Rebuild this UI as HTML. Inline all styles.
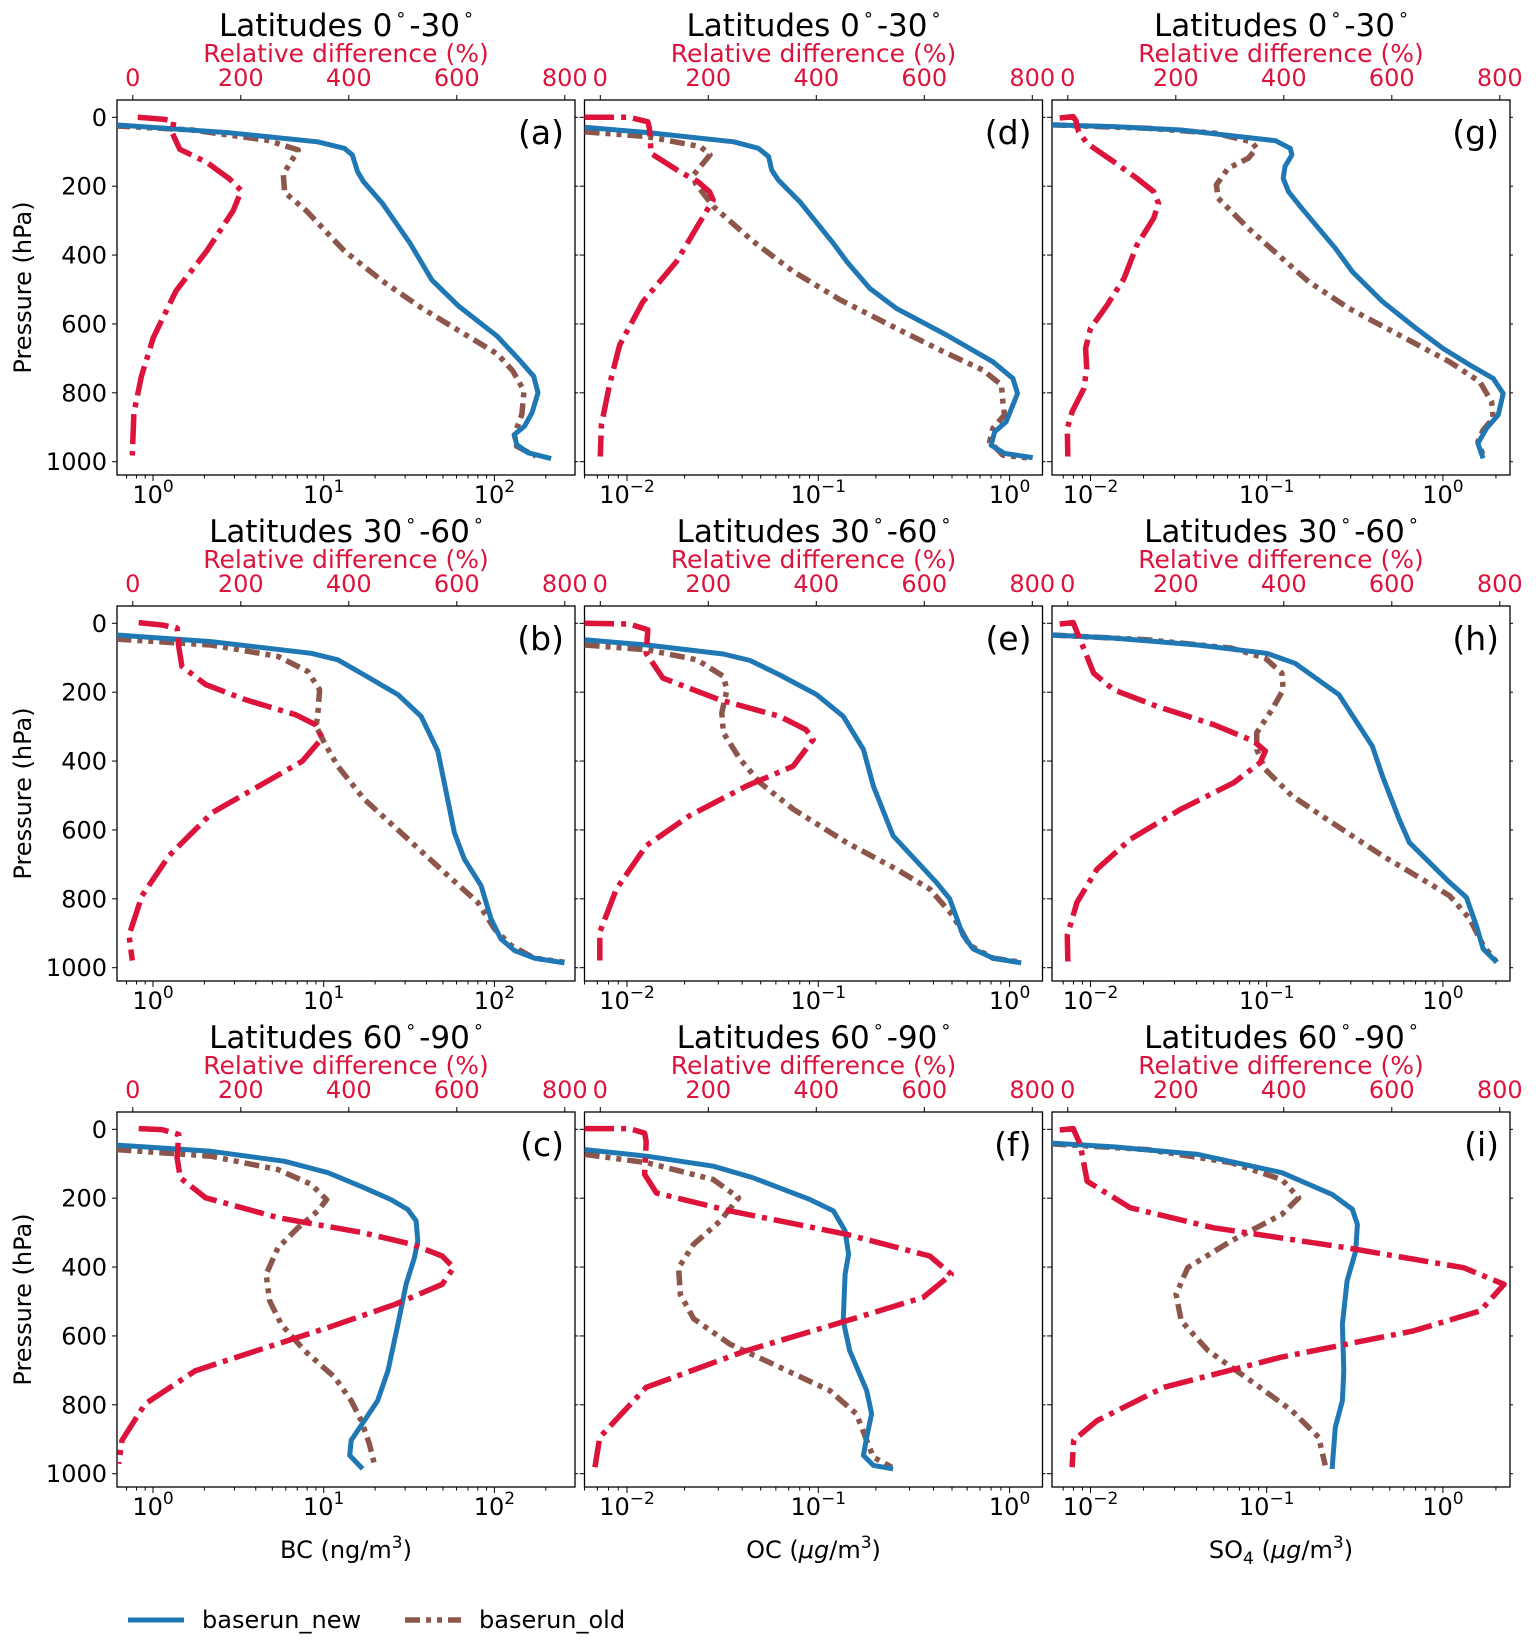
<!DOCTYPE html>
<html><head><meta charset="utf-8"><title>Vertical aerosol profiles</title>
<style>
html,body{margin:0;padding:0;background:#fff;}
svg{display:block;font-family:"DejaVu Sans","Liberation Sans",sans-serif;}
</style></head>
<body>
<svg id="fig" width="1536" height="1643" viewBox="0 0 1536 1643" xmlns="http://www.w3.org/2000/svg">
<defs id="defs"></defs>
<g id="root"></g>
<g>
  <line x1="128" y1="1620" x2="184" y2="1620" stroke="#1f77b4" stroke-width="5"/>
  <text x="202" y="1628" font-size="24">baserun_new</text>
  <line x1="405" y1="1620" x2="461" y2="1620" stroke="#8c564b" stroke-width="5.5" stroke-dasharray="15 6 5 6 5 6"/>
  <text x="479" y="1628" font-size="24">baserun_old</text>
</g>
</svg>
<script>
// ---------- data (pressure hPa, value) ----------
const a_newP=[22,45,71,90,109,158,187,249,365,472,549,636,708,752,800,858,897,921,950,974,991];
const a_newV=[0.61,2.8,9.2,13.2,14.7,15.8,17.1,22,32,43,62,104,142,170,180,166,150,131,135,157,215];
const a_oldP=[25,37,67,95,165,218,271,388,475,552,620,687,736,794,862,921,955,984];
const a_oldV=[0.6,1.7,4.7,7.1,5.8,5.9,7.9,13.2,22,37,62,104,128,149,145,131,135,175];
const a_relP=[0,6,12,45,93,131,179,213,271,388,504,640,752,858,982];
const a_relV=[9,59,76,73,87,137,179,201,186,137,80,38,16,2,-1];
const b_newP=[34,53,87,106,150,207,270,371,463,608,685,762,858,916,950,972,986];
const b_newV=[0.61,2.19,8.45,12.1,17.3,27.2,37.2,46.6,50.9,58.3,66.7,83.6,95.5,109,131,171,257];
const b_oldP=[46,63,96,140,193,260,299,347,415,511,617,723,810,887,935,972,984];
const b_oldV=[0.61,2.19,5.4,8.07,9.46,9.25,9.04,10.1,12.1,17.3,29.7,50.9,79.8,100,125,171,257];
const b_relP=[-2,5,14,67,125,178,222,265,294,333,400,473,550,675,791,906,979];
const b_relV=[11,54,82,85,91,135,209,301,338,351,314,233,147,67,17,-7,-1];
const c_newP=[46,64,93,126,170,204,233,266,324,373,450,566,701,788,846,903,947,986];
const c_newV=[0.61,2.19,5.9,10.6,17.3,24.8,31.1,34.8,35.6,34.0,30.4,27.2,23.8,20.7,17.3,14.5,14.2,16.9];
const c_oldP=[59,78,117,160,204,237,286,344,421,498,566,643,720,788,846,913,976];
const c_oldV=[0.61,2.19,5.4,8.45,10.4,9.25,7.06,5.4,4.6,4.82,5.64,7.73,11.6,14.5,16.6,18.5,19.9];
const c_relP=[-2,1,15,83,141,199,257,300,334,368,402,450,508,575,653,701,797,903,971];
const c_relV=[11,54,85,82,88,135,270,425,517,573,594,573,486,363,209,116,23,-20,-26];
const d_newP=[29,44,71,90,114,153,182,245,366,419,497,555,632,710,758,802,884,913,952,976,988];
const d_newV=[0.006,0.0127,0.0361,0.0486,0.055,0.0571,0.0618,0.080,0.12,0.141,0.186,0.256,0.468,0.818,1.04,1.10,0.96,0.836,0.80,0.94,1.32];
const d_oldP=[42,56,85,109,167,192,259,361,448,530,613,685,734,777,826,864,903,942,981,990];
const d_oldV=[0.006,0.0127,0.0242,0.0272,0.0223,0.0228,0.0283,0.0458,0.0741,0.13,0.256,0.468,0.726,0.906,0.923,0.94,0.818,0.787,0.923,1.30];
const d_relP=[0,0,13,32,105,158,187,216,240,274,419,535,661,777,893,985];
const d_relV=[-30,54,88,91,94,147,181,202,209,196,141,79,36,17,2,0];
const e_newP=[48,63,89,108,150,207,270,366,473,617,752,800,906,945,972,986];
const e_newV=[0.006,0.0127,0.0319,0.044,0.063,0.098,0.135,0.172,0.194,0.246,0.414,0.486,0.571,0.644,0.818,1.15];
const e_oldP=[63,77,106,154,193,260,318,395,463,540,637,714,772,849,935,972,984];
const e_oldV=[0.006,0.0127,0.0232,0.0319,0.0333,0.0313,0.0319,0.039,0.0497,0.0741,0.141,0.256,0.383,0.506,0.618,0.818,1.15];
const e_relP=[0,2,19,87,159,222,270,309,338,415,473,559,646,771,897,979];
const e_relV=[-30,54,88,85,116,221,332,381,394,357,270,165,85,30,-1,-1];
const f_newP=[59,78,107,141,204,237,295,363,421,556,643,759,826,894,947,976,986];
const f_newV=[0.006,0.0127,0.0283,0.0458,0.0906,0.12,0.138,0.144,0.138,0.135,0.146,0.179,0.19,0.179,0.172,0.194,0.246];
const f_oldP=[73,97,146,199,266,334,402,479,550,624,691,759,826,903,952,981];
const f_oldV=[0.006,0.0127,0.0283,0.0383,0.0307,0.0223,0.0186,0.019,0.0223,0.0346,0.063,0.115,0.158,0.179,0.194,0.242];
const f_relP=[-2,-2,11,35,131,185,237,305,368,421,488,556,643,749,894,981];
const f_relV=[-30,54,82,85,82,104,240,456,610,650,598,456,270,85,-1,-10];
const g_newP=[22,27,37,59,68,90,109,143,177,216,264,380,448,535,613,671,719,758,802,864,903,947,990];
const g_newV=[0.006,0.0136,0.0327,0.0785,0.112,0.136,0.139,0.127,0.124,0.133,0.158,0.245,0.306,0.454,0.705,1.0,1.42,1.93,2.2,2.06,1.77,1.58,1.69];
const g_oldP=[22,32,46,71,90,119,148,196,235,322,409,477,555,632,710,768,826,874,908,942,981];
const g_oldV=[0.006,0.0211,0.0507,0.082,0.0877,0.0785,0.0604,0.0518,0.053,0.0785,0.122,0.173,0.293,0.565,1.09,1.62,1.89,1.93,1.69,1.58,1.69];
const g_relP=[2,-2,10,42,76,129,177,216,250,293,371,468,545,613,671,729,787,855,903,985];
const g_relV=[-15,10,15,20,36,85,128,159,168,159,128,104,73,42,33,35,30,8,-1,0];
const h_newP=[34,43,63,87,116,207,357,444,569,637,752,796,878,945,984];
const h_newV=[0.006,0.0136,0.0407,0.1,0.145,0.257,0.398,0.454,0.565,0.646,1.09,1.36,1.55,1.69,2.02];
const h_oldP=[34,48,72,101,145,193,251,318,366,424,501,579,675,733,791,858,935,984];
const h_oldV=[0.006,0.0211,0.063,0.098,0.122,0.124,0.107,0.0877,0.0877,0.098,0.139,0.235,0.454,0.705,1.09,1.42,1.69,2.02];
const h_relP=[2,-2,14,48,145,193,241,294,342,371,405,463,540,627,714,810,906,982];
const h_relV=[-15,10,14,23,48,85,165,270,344,366,356,307,209,116,54,17,-1,0];
const i_newP=[40,51,73,126,189,232,276,353,440,566,701,788,865,986];
const i_newV=[0.006,0.0136,0.0407,0.122,0.235,0.306,0.327,0.32,0.286,0.269,0.274,0.269,0.245,0.235];
const i_oldP=[42,59,97,146,199,247,324,402,479,556,643,739,817,894,976];
const i_oldV=[0.006,0.0211,0.063,0.122,0.152,0.122,0.063,0.0356,0.0306,0.0327,0.0465,0.0857,0.139,0.197,0.215];
const i_relP=[2,-2,44,151,228,286,344,402,450,527,585,662,749,846,903,981];
const i_relV=[-15,10,23,36,116,270,517,733,808,764,641,394,178,54,11,8];

const pressureTicks=[0,200,400,600,800,1000];
const relTicks=[0,200,400,600,800];
const titles=["Latitudes 0","Latitudes 30","Latitudes 60"];
const titleEnds=["-30","-60","-90"];
const colDecades=[[0,1,2],[-2,-1,0],[-2,-1,0]];

const NS="http://www.w3.org/2000/svg";
const root=document.getElementById('root');
const defs=document.getElementById('defs');
const colLeft=[117,584.5,1052], W=458;
const rowTop=[100,606,1112], H=375;
const colAxis=[{px0:153,d0:0,dpx:170.7},{px0:627,d0:-2,dpx:191.3},{px0:1090.5,d0:-2,dpx:176.2}];
const panels=[
 ['a',0,0,a_newP,a_newV,a_oldP,a_oldV,a_relP,a_relV],
 ['b',1,0,b_newP,b_newV,b_oldP,b_oldV,b_relP,b_relV],
 ['c',2,0,c_newP,c_newV,c_oldP,c_oldV,c_relP,c_relV],
 ['d',0,1,d_newP,d_newV,d_oldP,d_oldV,d_relP,d_relV],
 ['e',1,1,e_newP,e_newV,e_oldP,e_oldV,e_relP,e_relV],
 ['f',2,1,f_newP,f_newV,f_oldP,f_oldV,f_relP,f_relV],
 ['g',0,2,g_newP,g_newV,g_oldP,g_oldV,g_relP,g_relV],
 ['h',1,2,h_newP,h_newV,h_oldP,h_oldV,h_relP,h_relV],
 ['i',2,2,i_newP,i_newV,i_oldP,i_oldV,i_relP,i_relV]
];
function mk(tag,attrs,parent,txt){const e=document.createElementNS(NS,tag);for(const k in attrs)e.setAttribute(k,attrs[k]);if(txt!==undefined)e.textContent=txt;(parent||root).appendChild(e);return e;}

panels.forEach(pn=>{
  const [id,row,col,nP,nV,oP,oV,rP,rV]=pn;
  const L=colLeft[col], T=rowTop[row], ax=colAxis[col];
  const yP=p=>T+17.3+p*0.3444;
  const xV=v=>ax.px0+(Math.log10(v)-ax.d0)*ax.dpx;
  const xR=r=>L+15.8+r*0.54;
  const g=mk('g',{});
  
  
  const cp=mk('clipPath',{id:'clip-'+id},defs);
  mk('rect',{x:L,y:T,width:W,height:H},cp);
  const t=mk('text',{x:L+W/2,y:T-64,'font-size':31,'text-anchor':'middle'},g);
  
  
  t.appendChild(document.createTextNode(titles[row]));
  mk('tspan',{'font-size':18,dy:-11,dx:4},t,'°');
  mk('tspan',{dy:11,dx:4},t,titleEnds[row]);
  mk('tspan',{'font-size':18,dy:-11,dx:4},t,'°');
  const rl=mk('text',{x:L+W/2,y:T-38,'font-size':25,'text-anchor':'middle',fill:'#dc143c'},g,'Relative difference (%)');
  
  
  relTicks.forEach(r=>{
    const x=xR(r);
    mk('line',{x1:x,y1:T,x2:x,y2:T-5,stroke:'#000','stroke-width':1},g);
    const tl=mk('text',{x:x,y:T-14,'font-size':24,'text-anchor':'middle',fill:'#dc143c'},g,String(r));
    
    
  });
  pressureTicks.forEach(p=>{
    const y=yP(p);
    mk('line',{x1:L,y1:y,x2:L-5,y2:y,stroke:'#000','stroke-width':1},g);
    mk('line',{x1:L+W,y1:y,x2:L+W+3,y2:y,stroke:'#000','stroke-width':1},g);
    if(col===0){
      const yl=mk('text',{x:L-10,y:y+8.5,'font-size':24,'text-anchor':'end'},g,String(p));
      
      
    }
  });
  for(let d=ax.d0-1; d<=ax.d0+3; d++){
    for(let m=1;m<=9;m++){
      const x=xV(m*Math.pow(10,d));
      if(x<L-0.5||x>L+W+0.5) continue;
      mk('line',{x1:x,y1:T+H,x2:x,y2:T+H+(m===1?6:3.5),stroke:'#000','stroke-width':1},g);
    }
  }
  colDecades[col].forEach(d=>{
    const x=xV(Math.pow(10,d));
    const tl=mk('text',{x:x,y:T+H+28,'font-size':24,'text-anchor':'middle'},g);
    
    
    tl.appendChild(document.createTextNode('10'));
    mk('tspan',{'font-size':17,dy:-11},tl,d<0?'\u2212'+(-d):String(d));
  });
  const fr=mk('rect',{x:L,y:T,width:W,height:H,fill:'none',stroke:'#000','stroke-width':1.3},g);
  
  
  const lines=mk('g',{'clip-path':'url(#clip-'+id+')',fill:'none'},g);
  const oldPts=oP.map((p,k)=>xV(oV[k]).toFixed(1)+','+yP(p).toFixed(1)).join(' ');
  const o=mk('polyline',{points:oldPts,stroke:'#8c564b','stroke-width':5.5,'stroke-dasharray':'15 6 5 6 5 6','stroke-linejoin':'round'},lines);
  
  
  const newPts=nP.map((p,k)=>xV(nV[k]).toFixed(1)+','+yP(p).toFixed(1)).join(' ');
  const n=mk('polyline',{points:newPts,stroke:'#1f77b4','stroke-width':5,'stroke-linejoin':'round'},lines);
  
  
  const relPts=rP.map((p,k)=>xR(rV[k]).toFixed(1)+','+yP(p).toFixed(1)).join(' ');
  const r=mk('polyline',{points:relPts,stroke:'#dc143c','stroke-width':5.5,'stroke-dasharray':'30 7 5 7','stroke-linejoin':'round'},lines);
  
  
  const pl=mk('text',{x:L+447,y:T+44,'font-size':33,'text-anchor':'end'},g,'('+id+')');
  
  
});
rowTop.forEach(T=>{
  const yl=mk('text',{x:0,y:0,'font-size':24,'text-anchor':'middle',transform:'translate(31,'+(T+H/2)+') rotate(-90)'},root,'Pressure (hPa)');
  
  
});
const xt1=mk('text',{x:colLeft[0]+W/2,y:1558,'font-size':24,'text-anchor':'middle'});


xt1.appendChild(document.createTextNode('BC (ng/m'));
mk('tspan',{'font-size':17,dy:-10},xt1,'3');
mk('tspan',{dy:10},xt1,')');
const xt2=mk('text',{x:colLeft[1]+W/2,y:1558,'font-size':24,'text-anchor':'middle'});


xt2.appendChild(document.createTextNode('OC ('));
mk('tspan',{'font-style':'italic'},xt2,'\u03bcg');
xt2.appendChild(document.createTextNode('/m'));
mk('tspan',{'font-size':17,dy:-10},xt2,'3');
mk('tspan',{dy:10},xt2,')');
const xt3=mk('text',{x:colLeft[2]+W/2,y:1558,'font-size':24,'text-anchor':'middle'});


xt3.appendChild(document.createTextNode('SO'));
mk('tspan',{'font-size':17,dy:6},xt3,'4');
mk('tspan',{dy:-6},xt3,' (');
mk('tspan',{'font-style':'italic'},xt3,'\u03bcg');
xt3.appendChild(document.createTextNode('/m'));
mk('tspan',{'font-size':17,dy:-10},xt3,'3');
mk('tspan',{dy:10},xt3,')');
</script>
</body></html>
